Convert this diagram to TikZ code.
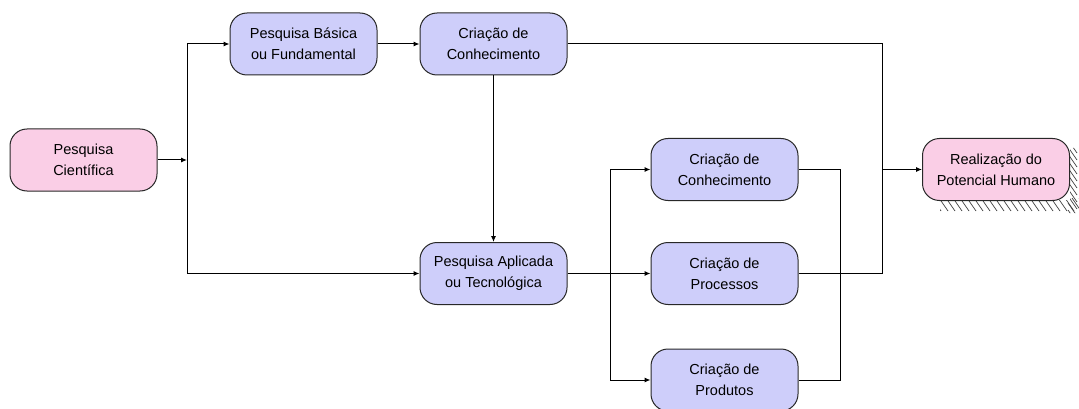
\documentclass[tikz,border=0pt]{standalone}
\usepackage{fontspec}
\setmainfont{Liberation Sans}
\usetikzlibrary{arrows.meta}
\definecolor{pinkfill}{RGB}{250,206,230}
\definecolor{lavfill}{RGB}{206,206,250}
\definecolor{edge}{RGB}{40,40,40}
\tikzset{
  box/.style={draw=edge, line width=1pt, rounded corners=17pt, minimum width=147pt, minimum height=62pt, align=center, font=\fontsize{14.5}{21}\selectfont, inner sep=0pt},
  pinkbox/.style={box, fill=pinkfill},
  lavbox/.style={box, fill=lavfill},
  conn/.style={line width=1pt, black},
  arr/.style={conn, -{Latex[length=6pt,width=5pt]}},
}
\begin{document}
\begin{tikzpicture}[x=1pt,y=-1pt]
\useasboundingbox (0,0) rectangle (1079,409);
% hatching for Realizacao
\begin{scope}
\clip (940,200) rectangle (1079,213) (1070,148) rectangle (1079,213);
\foreach \i in {0,...,22} {
  \draw[line width=0.7pt, black!75] (925+\i*7,198) -- (934+\i*7,211);
}
\foreach \j in {0,...,10} {
  \draw[line width=0.7pt, black!75] (1068,140+\j*7) -- (1077,153+\j*7);
}
\end{scope}
\node[pinkbox] (pc) at (83.5,160) {Pesquisa\\Científica};
\node[lavbox] (pb) at (303.5,44) {Pesquisa Básica\\ou Fundamental};
\node[lavbox] (cc) at (493.5,44) {Criação de\\Conhecimento};
\node[lavbox] (pa) at (493.5,273.5) {Pesquisa Aplicada\\ou Tecnológica};
\node[lavbox] (cc2) at (724.5,169.5) {Criação de\\Conhecimento};
\node[lavbox] (cp) at (724.5,273.5) {Criação de\\Processos};
\node[lavbox] (cpr) at (724.5,380) {Criação de\\Produtos};
\node[pinkbox] (rh) at (996,169.5) {Realização do\\Potencial Humano};
% junctions
\coordinate (j1) at (187,160);
\coordinate (j1t) at (187,44);
\coordinate (j1b) at (187,273.5);
\coordinate (j2) at (610,273.5);
\coordinate (j2t) at (610,169.5);
\coordinate (j2b) at (610,380);
\coordinate (j3t) at (840,169.5);
\coordinate (j3b) at (840,380);
\coordinate (j4t) at (882,44);
\coordinate (j4m) at (882,169.5);
\coordinate (j4b) at (882,273.5);
% connectors
\draw[arr] (pc.east) -- (j1);
\draw[conn] (j1t) -- (j1b);
\draw[arr] (j1t) -- (pb.west);
\draw[arr] (j1b) -- (pa.west);
\draw[arr] (pb.east) -- (cc.west);
\draw[arr] (cc.south) -- (pa.north);
\draw[conn] (cc.east) -- (j4t) -- (j4b);
\draw[conn] (cp.east) -- (j4b);
\draw[arr] (j4m) -- (rh.west);
\draw[arr] (pa.east) -- (cp.west);
\draw[conn] (j2t) -- (j2b);
\draw[arr] (j2t) -- (cc2.west);
\draw[arr] (j2b) -- (cpr.west);
\draw[conn] (cc2.east) -- (j3t) -- (j3b) -- (cpr.east);
\end{tikzpicture}
\end{document}
